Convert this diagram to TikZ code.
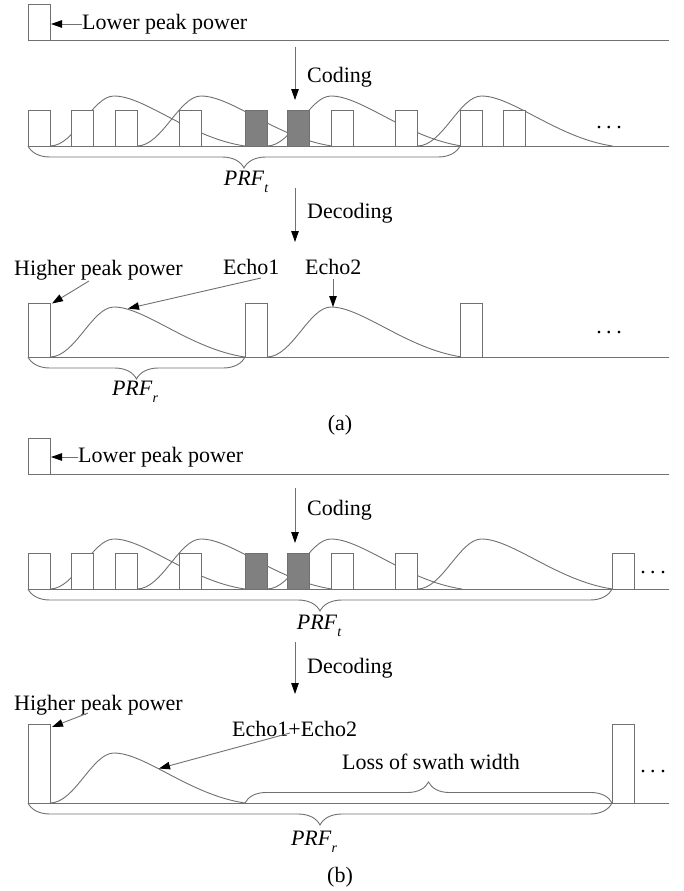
\documentclass[tikz,border=0pt]{standalone}
\usepackage{fontspec}
\setmainfont{Liberation Serif}
\usetikzlibrary{arrows.meta,decorations.pathreplacing}
\definecolor{lgray}{RGB}{112,112,112}
\definecolor{pgray}{RGB}{128,128,128}
\newcommand\echoat[2]{\draw[echo, shift={(#1,#2)}] (0,0) .. controls (25,0) and (42,-50) .. (64,-50) .. controls (95,-50) and (140,-8) .. (195,0);}
\newcommand\pulseat[3]{\filldraw[pulse] (#1,#2) rectangle ++(22,-#3);}
\newcommand\gpulseat[3]{\filldraw[gpulse] (#1,#2) rectangle ++(22,-#3);}
\newcommand\prflabel[1]{\textit{PRF}\raisebox{-0.3em}{\fontsize{14}{14}\selectfont\itshape #1}}
\newcommand\mydots{.\kern4.5pt.\kern4.5pt.}
\begin{document}
\begin{tikzpicture}[x=1pt,y=-1pt,
  base/.style={draw=lgray, line width=0.9pt},
  echo/.style={draw=lgray, line width=0.9pt},
  pulse/.style={draw=lgray, fill=white, line width=0.9pt},
  gpulse/.style={draw=lgray, fill=pgray, line width=0.9pt},
  lbl/.style={font=\fontsize{22}{26}\selectfont, inner sep=0pt, text=black},
  arr/.style={draw=lgray, line width=0.9pt, -{Triangle[length=11pt,width=7.5pt,color=black]}},
  bracedown/.style={draw=lgray, line width=0.9pt, decorate, decoration={brace, mirror, amplitude=22pt}},
  braceup/.style={draw=lgray, line width=0.9pt, decorate, decoration={brace, amplitude=21pt}}]
\useasboundingbox (0,0) rectangle (684,891);

% ================= (a) =================
% top row
\draw[base] (28,40) -- (669,40);
\pulseat{28}{40}{36}
\node[lbl, anchor=west] (lowA) at (82,24) {Lower peak power};
\coordinate (lowAtip) at (51,24);
\draw[arr] (lowA.west) -- (lowAtip);

% coding arrow
\coordinate (codAs) at (295,47);
\coordinate (codAe) at (295,100);
\draw[arr] (codAs) -- (codAe);
\node[lbl, anchor=west] (codA) at (307,77) {Coding};

% coded row
\draw[base] (28,146) -- (669,146);
\echoat{50}{146}
\echoat{137}{146}
\echoat{267}{146}
\echoat{417.5}{146}
\pulseat{28}{146}{36}
\pulseat{71.5}{146}{36}
\pulseat{115}{146}{36}
\pulseat{179.5}{146}{36}
\gpulseat{245}{146}{36}
\gpulseat{287.5}{146}{36}
\pulseat{331}{146}{36}
\pulseat{395.5}{146}{36}
\pulseat{460}{146}{36}
\pulseat{503.5}{146}{36}
\node[lbl] (dotsA1) at (609,128) {\mydots};
\coordinate (brA1s) at (28,146);
\coordinate (brA1e) at (460,146);
\draw[bracedown] (brA1s) -- (brA1e);
\node[lbl] (prftA) at (246,182) {\prflabel{t}};

% decoding arrow
\coordinate (decAs) at (295,188);
\coordinate (decAe) at (295,242);
\draw[arr] (decAs) -- (decAe);
\node[lbl, anchor=west] (decA) at (307,213) {Decoding};

% decoded row
\draw[base] (28,357) -- (669,357);
\echoat{50}{357}
\echoat{267}{357}
\pulseat{28}{357}{54}
\pulseat{245}{357}{54}
\pulseat{460}{357}{54}
\node[lbl] (dotsA2) at (609,333) {\mydots};
\node[lbl, anchor=west] (highA) at (14,270) {Higher peak power};
\coordinate (highAs) at (89,281);
\coordinate (highAtip) at (52,303.5);
\draw[arr] (highAs) -- (highAtip);
\node[lbl, anchor=west] (echo1A) at (223,267) {Echo1};
\coordinate (echo1As) at (261,278);
\coordinate (echo1Atip) at (128,308.5);
\draw[arr] (echo1As) -- (echo1Atip);
\node[lbl, anchor=west] (echo2A) at (305,267) {Echo2};
\coordinate (echo2As) at (333,279);
\coordinate (echo2Atip) at (333,307);
\draw[arr] (echo2As) -- (echo2Atip);
\coordinate (brA2s) at (28,357);
\coordinate (brA2e) at (245,357);
\draw[bracedown] (brA2s) -- (brA2e);
\node[lbl] (prfrA) at (135,392) {\prflabel{r}};
\node[lbl] (capA) at (340,425) {(a)};

% ================= (b) =================
\draw[base] (28,474) -- (669,474);
\pulseat{28}{474}{36}
\node[lbl, anchor=west] (lowB) at (78,457) {Lower peak power};
\coordinate (lowBtip) at (51,457);
\draw[arr] (lowB.west) -- (lowBtip);

\coordinate (codBs) at (295,488);
\coordinate (codBe) at (295,543);
\draw[arr] (codBs) -- (codBe);
\node[lbl, anchor=west] (codB) at (307,510) {Coding};

\draw[base] (28,589) -- (669,589);
\echoat{50}{589}
\echoat{137}{589}
\echoat{267}{589}
\echoat{417.5}{589}
\pulseat{28}{589}{36}
\pulseat{71.5}{589}{36}
\pulseat{115}{589}{36}
\pulseat{179.5}{589}{36}
\gpulseat{245}{589}{36}
\gpulseat{287.5}{589}{36}
\pulseat{331}{589}{36}
\pulseat{395.5}{589}{36}
\pulseat{612}{589}{36}
\node[lbl] (dotsB1) at (653,573) {\mydots};
\coordinate (brB1s) at (28,589);
\coordinate (brB1e) at (612,589);
\draw[bracedown] (brB1s) -- (brB1e);
\node[lbl] (prftB) at (319,626) {\prflabel{t}};

\coordinate (decBs) at (295,642);
\coordinate (decBe) at (295,694);
\draw[arr] (decBs) -- (decBe);
\node[lbl, anchor=west] (decB) at (307,668) {Decoding};

\draw[base] (28,803) -- (669,803);
\echoat{50}{803}
\pulseat{28}{803}{79}
\pulseat{612}{803}{79}
\node[lbl] (dotsB2) at (653,772) {\mydots};
\node[lbl, anchor=west] (highB) at (14,705) {Higher peak power};
\coordinate (highBs) at (88,713);
\coordinate (highBtip) at (52,727);
\draw[arr] (highBs) -- (highBtip);
\node[lbl, anchor=west] (echo12B) at (232,729) {Echo1+Echo2};
\coordinate (echo12Bs) at (290,733);
\coordinate (echo12Btip) at (159,768.5);
\draw[arr] (echo12Bs) -- (echo12Btip);
\coordinate (lossS) at (245,803);
\coordinate (lossE) at (612,803);
\draw[braceup] (lossS) -- (lossE);
\node[lbl] (loss) at (431,762) {Loss of swath width};
\coordinate (brB2s) at (28,803);
\coordinate (brB2e) at (612,803);
\draw[bracedown] (brB2s) -- (brB2e);
\node[lbl] (prfrB) at (314,842) {\prflabel{r}};
\node[lbl] (capB) at (340,877) {(b)};
\end{tikzpicture}
\end{document}
